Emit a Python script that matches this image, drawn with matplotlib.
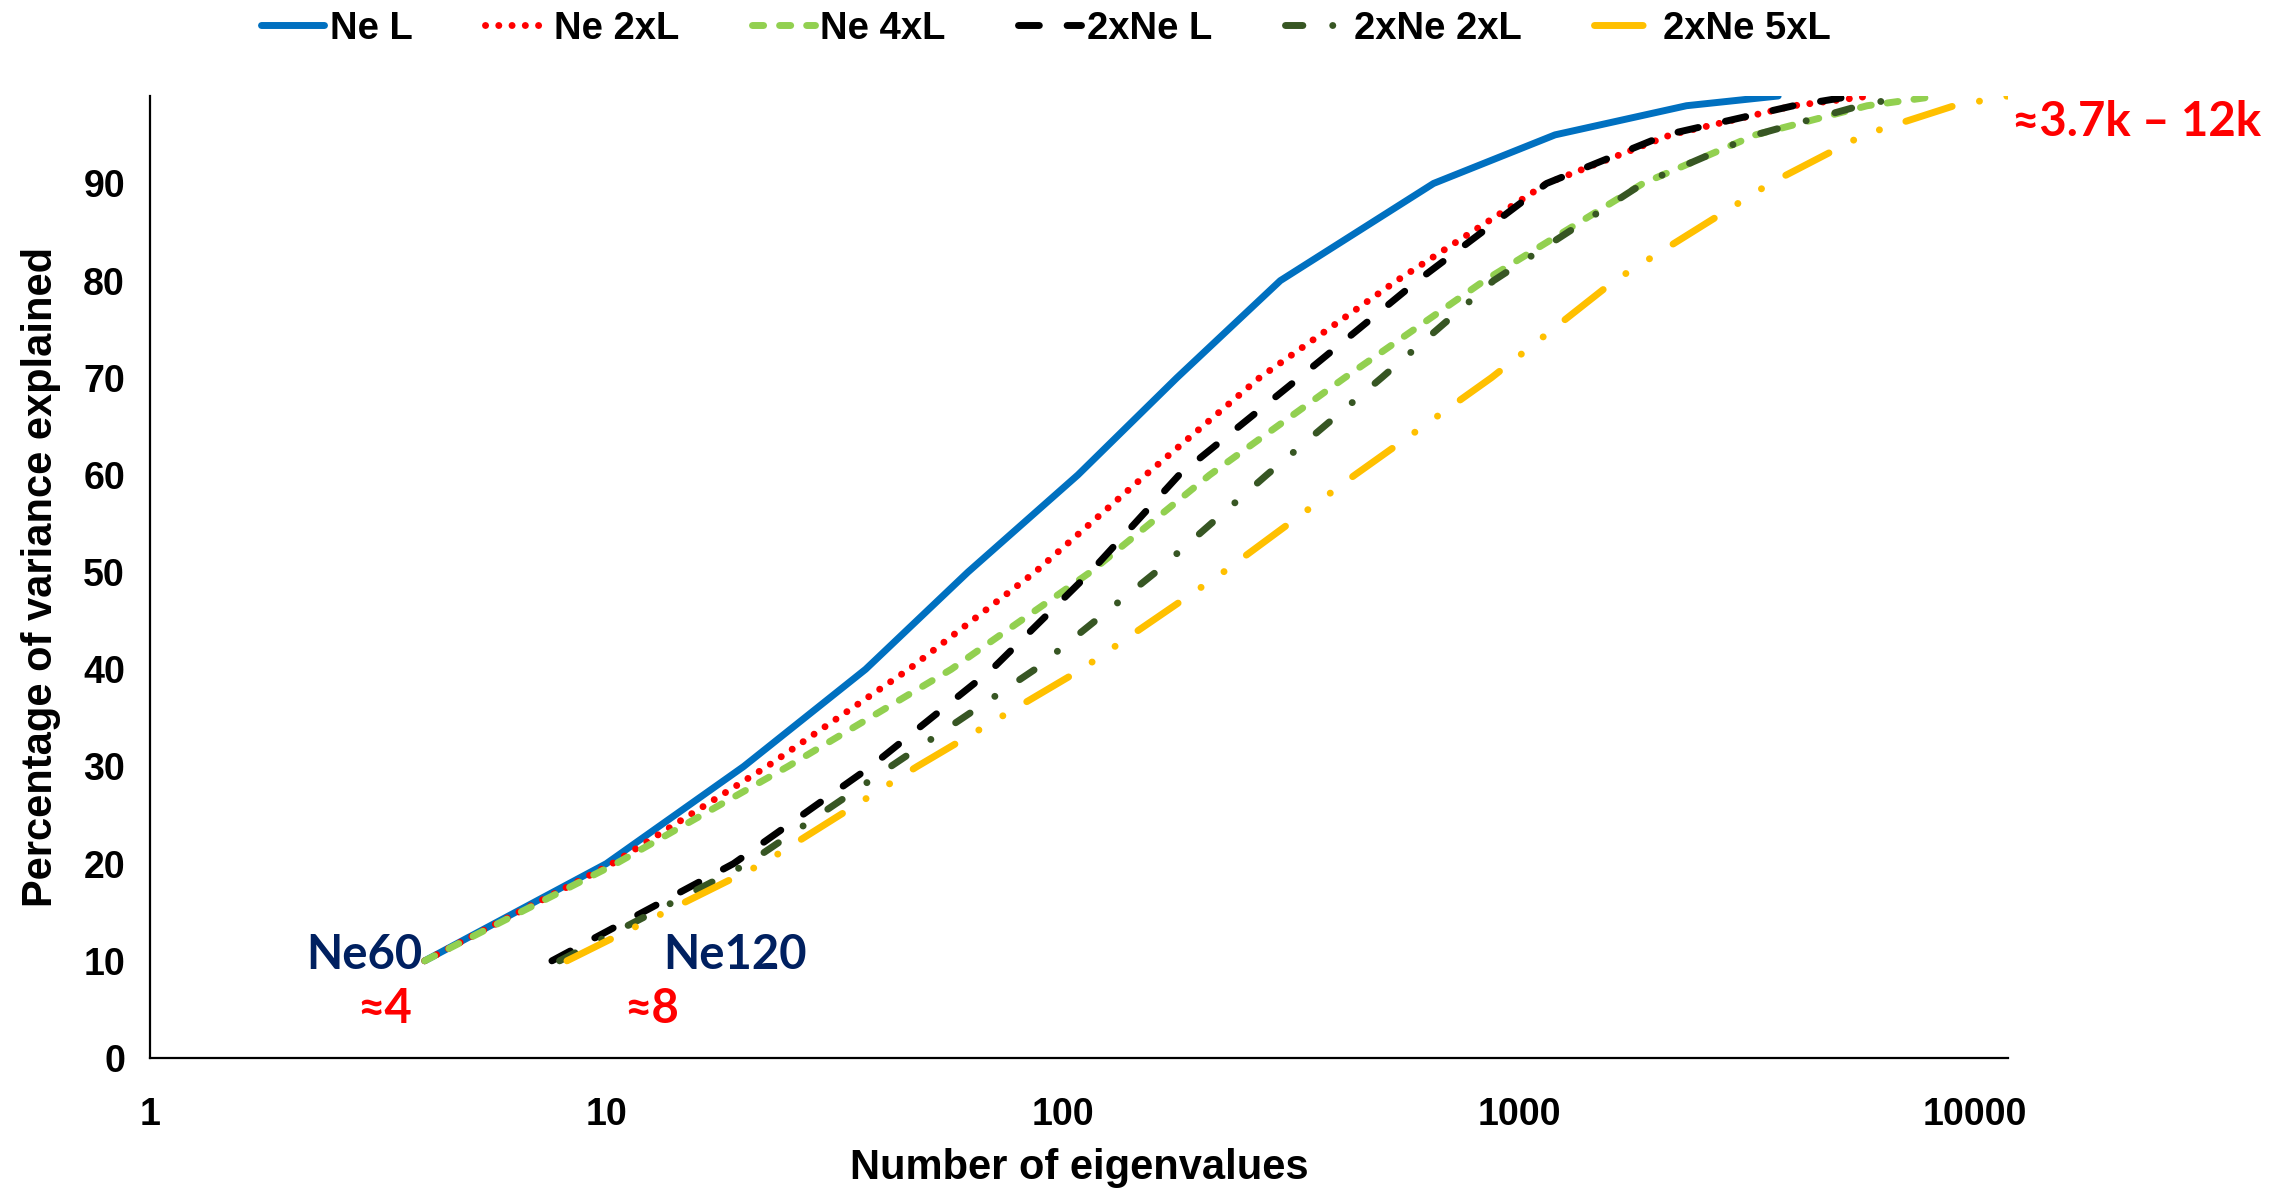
import matplotlib
matplotlib.use("Agg")
import matplotlib.pyplot as plt

# ---- data: number of eigenvalues needed to reach each % of variance ----
levels = [10, 20, 30, 40, 50, 60, 70, 80, 90, 95, 98, 99]

ne_L      = [4.0, 10.0, 20.0, 37.0, 62.0, 108.0, 178.0, 300.0, 650.0, 1200.0, 2330.0, 3700.0]
ne_2xL    = [4.0, 10.3, 22.5, 46.0, 87.0, 152.0, 270.0, 540.0, 1150.0, 2150.0, 4000.0, 5900.0]
ne_4xL    = [4.0, 10.5, 25.0, 57.0, 115.0, 210.0, 415.0, 840.0, 1870.0, 3300.0, 5800.0, 8300.0]
ne2_L     = [7.6, 19.0, 38.0, 70.0, 115.0, 180.0, 330.0, 600.0, 1150.0, 2100.0, 4000.0, 5400.0]
ne2_2xL   = [7.9, 20.4, 42.0, 87.0, 160.0, 280.0, 500.0, 880.0, 1870.0, 3300.0, 5600.0, 7100.0]
ne2_5xL   = [8.2, 22.0, 48.0, 110.0, 225.0, 437.0, 870.0, 1620.0, 3550.0, 5700.0, 9000.0, 11800.0]

series_names = ["Ne L", "Ne 2xL", "Ne 4xL", "2xNe L", "2xNe 2xL", "2xNe 5xL"]
series_vals = [ne_L, ne_2xL, ne_4xL, ne2_L, ne2_2xL, ne2_5xL]

x_ticks = [1, 10, 100, 1000, 10000]
x_tick_labels = ["1", "10", "100", "1000", "10000"]
y_ticks = [0, 10, 20, 30, 40, 50, 60, 70, 80, 90]

colors = ["#0070C0", "#FF0000", "#92D050", "#000000", "#375623", "#FFC000"]
styles = [
    "-",
    (0, (0.01, 1.9)),
    (0, (1.6, 2.3)),
    (0, (3.0, 4.0)),
    (0, (2.5, 4.3, 0.01, 4.3)),
    (0, (7.0, 4.0, 0.01, 4.0, 0.01, 4.0)),
]

W, H, DPI = 2283, 1189, 100
fig = plt.figure(figsize=(W / DPI, H / DPI), dpi=DPI)
ax = fig.add_axes([150 / W, 1 - 1058 / H, (2008 - 150) / W, (1058 - 96) / H])

lw = 5.0
for name, vals, c, ls in zip(series_names, series_vals, colors, styles):
    ax.plot(vals, levels, color=c, linestyle=ls, linewidth=lw,
            dash_capstyle="round", solid_capstyle="round", label=name)

ax.set_xscale("log")
ax.set_xlim(1, 11800)
ax.set_ylim(0, 99)
ax.set_xticks(x_ticks)
ax.set_xticklabels(x_tick_labels)
ax.minorticks_off()
ax.set_yticks(y_ticks)

for s in ["top", "right"]:
    ax.spines[s].set_visible(False)
for s in ["left", "bottom"]:
    ax.spines[s].set_linewidth(1.6)
    ax.spines[s].set_color("#000000")

fam = ["Liberation Sans", "DejaVu Sans"]
ax.tick_params(axis="both", length=0)
ax.tick_params(axis="x", pad=28)
ax.tick_params(axis="y", pad=18)
for lab in ax.get_xticklabels() + ax.get_yticklabels():
    lab.set_fontfamily(fam)
    lab.set_fontweight("bold")
    lab.set_fontsize(27)

label_font = dict(family=fam, weight="bold", size=30)
ax.set_xlabel("Number of eigenvalues", fontdict=label_font, labelpad=11)
ax.set_ylabel("Percentage of variance explained", fontdict=label_font, labelpad=16)

leg = fig.legend(loc="center", bbox_to_anchor=(0.458, 0.976), ncol=6, frameon=False,
                 prop=dict(family=fam, weight="bold", size=27.5),
                 handlelength=1.65, handletextpad=0.15, columnspacing=1.9)

ann_fam = ["Lato", "DejaVu Sans"]
navy = "#002060"
ax.text(3.95, 10.6, "Ne60", color=navy, fontsize=34, fontweight="bold", family=ann_fam,
        ha="right", va="center")
ax.text(13.3, 10.6, "Ne120", color=navy, fontsize=34, fontweight="bold", family=ann_fam,
        ha="left", va="center")
ax.text(3.27, 5.0, "≈4", color="#FF0000", fontsize=34, fontweight="bold", family=ann_fam,
        ha="center", va="center")
ax.text(12.6, 5.0, "≈8", color="#FF0000", fontsize=34, fontweight="bold", family=ann_fam,
        ha="center", va="center")
fig.text(2136 / W, 1 - 122 / H, "≈3.7k – 12k", color="#FF0000", fontsize=34,
         fontweight="bold", family=ann_fam, ha="center", va="center")

fig.savefig("out.png", dpi=DPI)
